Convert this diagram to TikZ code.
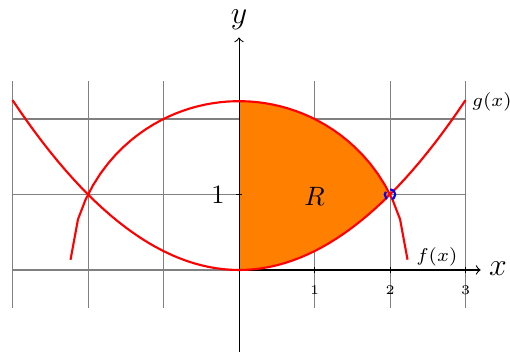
\documentclass[tikz,border=0pt]{standalone}
\begin{document}
\begin{tikzpicture}[
  curve/.style={red, thick},
  gridline/.style={gray, thin},
  axisline/.style={black, ->},
  ticklab/.style={font=\tiny, inner sep=0pt},
  fnlab/.style={font=\scriptsize, inner sep=0pt},
  axlab/.style={font=\large, inner sep=0pt},
]
\useasboundingbox (-3.166,-1.086) rectangle (3.589,3.576);
\draw[gridline] (-3,-0.5) grid (3,2.5);
\fill[orange] (0,0) -- plot[domain=0:2, samples=60] (\x,{\x*\x/4})
  -- plot[domain=2:0, samples=60] (\x,{sqrt(max(5-\x*\x,0))}) -- cycle;
\draw[axisline] (0,0) -- (3.2,0);
\draw[axisline] (0,-1.1) -- (0,3.08);
\node[axlab] (xl) at (3.43,0.02) {$x$};
\node[axlab] (yl) at (0,3.32) {$y$};
\foreach \i in {1,2,3} {
  \draw (\i,0.035) -- (\i,-0.035);
  \node[ticklab] (t\i) at (\i,-0.27) {$\i$};
}
\draw (-0.035,1) -- (0.035,1);
\node[inner sep=0pt] (one) at (-0.28,1) {$1$};
\draw[curve] plot[domain=-3:3, samples=61] (\x,{\x*\x/4});
\draw[curve] plot[domain=-2.232:2.232, samples=46] (\x,{sqrt(max(5-\x*\x,0))});
\node[inner sep=0pt] (R) at (1,0.97) {$R$};
\node[fnlab] (gl) at (3.35,2.23) {$g(x)$};
\node[fnlab] (fl) at (2.62,0.17) {$f(x)$};
\node[circle, draw=blue, densely dashed, thick, inner sep=0pt, minimum size=0.14cm] (p) at (2,1) {};
\end{tikzpicture}
\end{document}
